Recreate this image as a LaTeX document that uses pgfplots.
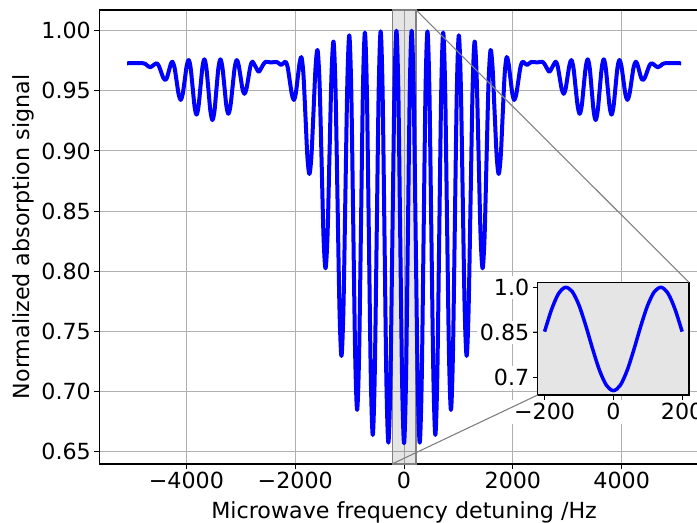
\documentclass[border=0pt]{standalone}
\usepackage{fontspec}
\setmainfont{DejaVu Sans}
\usepackage{pgfplots}
\usepackage{pgfplotstable}
\pgfplotsset{compat=1.18}
\definecolor{gridgray}{HTML}{B0B0B0}
\definecolor{shade}{HTML}{E5E5E5}

% main signal
\pgfplotstableread{
f v
-5090 0.9729
-4790 0.9729
-4727 0.9713
-4664 0.9696
-4606 0.9713
-4548 0.9729
-4508 0.9709
-4467 0.9660
-4426 0.9610
-4386 0.9590
-4354 0.9612
-4321 0.9666
-4288 0.9720
-4256 0.9742
-4218 0.9695
-4180 0.9583
-4142 0.9471
-4104 0.9424
-4067 0.9473
-4030 0.9590
-3994 0.9707
-3957 0.9756
-3921 0.9690
-3885 0.9529
-3849 0.9368
-3813 0.9302
-3777 0.9369
-3741 0.9532
-3705 0.9695
-3669 0.9762
-3632 0.9688
-3595 0.9510
-3558 0.9331
-3521 0.9257
-3484 0.9331
-3448 0.9510
-3412 0.9688
-3375 0.9762
-3338 0.9696
-3301 0.9536
-3265 0.9375
-3228 0.9309
-3190 0.9374
-3151 0.9533
-3113 0.9691
-3075 0.9756
-3040 0.9715
-3004 0.9616
-2969 0.9516
-2934 0.9475
-2897 0.9514
-2860 0.9609
-2824 0.9703
-2787 0.9742
-2728 0.9700
-2670 0.9659
-2610 0.9700
-2550 0.9740
-2450 0.9736
-2340 0.9740
-2300 0.9728
-2260 0.9715
-2217 0.9729
-2175 0.9742
-2138 0.9695
-2100 0.9583
-2062 0.9471
-2025 0.9424
-1990 0.9476
-1955 0.9602
-1920 0.9728
-1885 0.9780
-1849 0.9638
-1812 0.9294
-1776 0.8950
-1739 0.8808
-1702 0.8959
-1664 0.9324
-1627 0.9689
-1590 0.9840
-1553 0.9574
-1516 0.8932
-1480 0.8290
-1443 0.8024
-1406 0.8300
-1370 0.8967
-1333 0.9634
-1296 0.9910
-1260 0.9527
-1223 0.8603
-1186 0.7678
-1150 0.7295
-1114 0.7685
-1078 0.8629
-1042 0.9572
-1006 0.9962
-970 0.9506
-934 0.8404
-898 0.7302
-862 0.6846
-826 0.7306
-790 0.8416
-755 0.9525
-719 0.9985
-683 0.9495
-647 0.8312
-611 0.7128
-575 0.6638
-539 0.7129
-502 0.8317
-466 0.9504
-430 0.9995
-394 0.9494
-359 0.8285
-324 0.7075
-288 0.6574
-251 0.7076
-214 0.8287
-177 0.9498
-140 1.0000
-105 0.9498
-70 0.8285
-35 0.7071
0 0.6569
35 0.7071
70 0.8285
105 0.9498
140 1.0000
177 0.9498
214 0.8287
251 0.7076
288 0.6574
324 0.7075
359 0.8285
394 0.9494
430 0.9995
466 0.9504
502 0.8317
539 0.7129
575 0.6638
611 0.7128
647 0.8312
683 0.9495
719 0.9985
755 0.9525
790 0.8416
826 0.7306
862 0.6846
898 0.7302
934 0.8404
970 0.9506
1006 0.9962
1042 0.9572
1078 0.8629
1114 0.7685
1150 0.7295
1186 0.7678
1223 0.8603
1260 0.9527
1296 0.9910
1333 0.9634
1370 0.8967
1406 0.8300
1443 0.8024
1480 0.8290
1516 0.8932
1553 0.9574
1590 0.9840
1627 0.9689
1664 0.9324
1702 0.8959
1739 0.8808
1776 0.8950
1812 0.9294
1849 0.9638
1885 0.9780
1920 0.9728
1955 0.9602
1990 0.9476
2025 0.9424
2062 0.9471
2100 0.9583
2138 0.9695
2175 0.9742
2217 0.9729
2260 0.9715
2300 0.9728
2340 0.9740
2450 0.9736
2550 0.9740
2610 0.9700
2670 0.9659
2728 0.9700
2787 0.9742
2824 0.9703
2860 0.9609
2897 0.9514
2934 0.9475
2969 0.9516
3004 0.9616
3040 0.9715
3075 0.9756
3113 0.9691
3151 0.9533
3190 0.9374
3228 0.9309
3265 0.9375
3301 0.9536
3338 0.9696
3375 0.9762
3412 0.9688
3448 0.9510
3484 0.9331
3521 0.9257
3558 0.9331
3595 0.9510
3632 0.9688
3669 0.9762
3705 0.9695
3741 0.9532
3777 0.9369
3813 0.9302
3849 0.9368
3885 0.9529
3921 0.9690
3957 0.9756
3994 0.9707
4030 0.9590
4067 0.9473
4104 0.9424
4142 0.9471
4180 0.9583
4218 0.9695
4256 0.9742
4288 0.9720
4321 0.9666
4354 0.9612
4386 0.9590
4426 0.9610
4467 0.9660
4508 0.9709
4548 0.9729
4606 0.9713
4664 0.9696
4727 0.9713
4790 0.9729
5090 0.9729
}\signal

% zoomed centre
\pgfplotstableread{
f v
-200 0.8529
-180 0.9253
-160 0.9778
-140 0.9997
-120 0.9865
-100 0.9408
-80 0.8721
-60 0.7944
-40 0.7238
-20 0.6746
0 0.6570
20 0.6746
40 0.7238
60 0.7944
80 0.8721
100 0.9408
120 0.9865
140 0.9997
160 0.9778
180 0.9253
200 0.8529
}\zoomed

\begin{document}
\begin{tikzpicture}
\pgfplotsset{
  every axis/.append style={
    tick label style={font=\fontsize{22.2bp}{26bp}\selectfont},
    label style={font=\fontsize{22.2bp}{26bp}\selectfont},
    axis line style={line width=1.1bp},
    tick style={black, line width=1.1bp},
    major tick length=4.9bp,
    tick align=outside,
    xtick pos=bottom, ytick pos=left,
    scaled ticks=false,
  },
}
\begin{axis}[
  name=main, at={(0,0)}, anchor=south west,
  scale only axis, width=609.5bp, height=454bp,
  xmin=-5600, xmax=5600, ymin=0.6397, ymax=1.0172,
  xtick={-4000,-2000,0,2000,4000},
  xticklabels={−4000,−2000,0,2000,4000},
  ytick={0.65,0.7,0.75,0.8,0.85,0.9,0.95,1.0},
  yticklabels={0.65,0.70,0.75,0.80,0.85,0.90,0.95,1.00},
  grid=major, major grid style={gridgray, line width=1.1bp},
  xlabel={Microwave frequency detuning /Hz},
  ylabel={Normalized absorption signal},
  xlabel style={at={(axis description cs:0.5,-0.119)}, anchor=base},
  ylabel style={at={(axis description cs:-0.1252,0.5)}, anchor=center},
]
\draw[draw=gray, line width=1.1bp, fill=black, fill opacity=0.1]
  (axis cs:-220,0.6397) rectangle (axis cs:220,1.0172);
\addplot[blue, line width=4bp, smooth, line join=round] table {\signal};
\coordinate (rtr) at (axis cs:220,1.0172);
\coordinate (rbl) at (axis cs:-220,0.6397);
\end{axis}

\begin{axis}[
  name=inset, at={(438.4bp,69bp)}, anchor=south west,
  scale only axis, width=151.3bp, height=112.7bp,
  xmin=-220, xmax=220, ymin=0.6426, ymax=1.0166,
  axis background/.style={fill=shade},
  xtick={-200,0,200}, xticklabels={−200,0,200},
  ytick={0.7,0.85,1.0}, yticklabels={0.7,0.85,1.0},
  tick label style={fill=white},
]
\addplot[blue, line width=3.5bp, smooth] table {\zoomed};
\end{axis}

\draw[gray, line width=1.1bp] (rtr) -- (inset.north east);
\draw[gray, line width=1.1bp] (rbl) -- (inset.south west);

\pgfresetboundingbox
\useasboundingbox (-99.3bp,-59bp) rectangle (597.7bp,464bp);
\end{tikzpicture}
\end{document}
